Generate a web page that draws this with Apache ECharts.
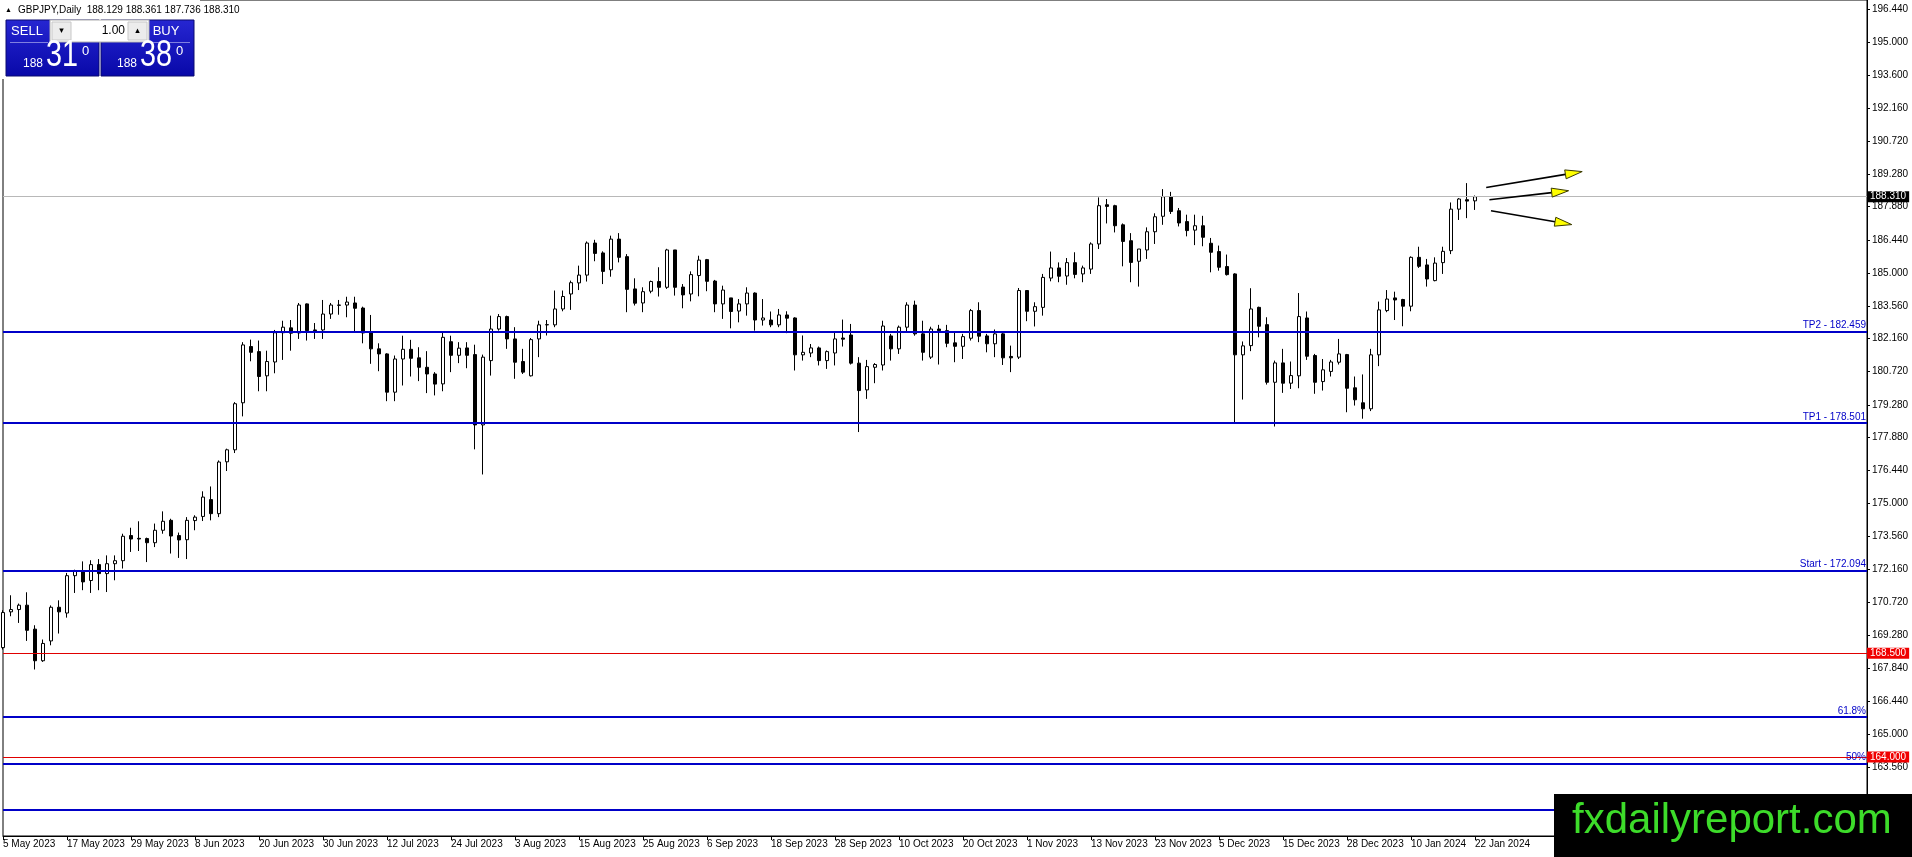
<!DOCTYPE html>
<html><head><meta charset="utf-8">
<script src="https://cdn.jsdelivr.net/npm/echarts/dist/echarts.min.js"></script>
<style>html,body{margin:0;padding:0;background:#fff;}#c{width:1912px;height:857px;}</style>
</head><body><div id="c"></div>
<script>
// ---- data ----
const symbolTitle = 'GBPJPY,Daily  188.129 188.361 187.736 188.310';
const dateLabels = ['5 May 2023','17 May 2023','29 May 2023','8 Jun 2023','20 Jun 2023','30 Jun 2023','12 Jul 2023','24 Jul 2023','3 Aug 2023','15 Aug 2023','25 Aug 2023','6 Sep 2023','18 Sep 2023','28 Sep 2023','10 Oct 2023','20 Oct 2023','1 Nov 2023','13 Nov 2023','23 Nov 2023','5 Dec 2023','15 Dec 2023','28 Dec 2023','10 Jan 2024','22 Jan 2024'];
const yTickLabels = [196.44,195.0,193.6,192.16,190.72,189.28,187.88,186.44,185.0,183.56,182.16,180.72,179.28,177.88,176.44,175.0,173.56,172.16,170.72,169.28,167.84,166.44,165.0,163.56];

const opens = [168.75,170.30,170.40,170.59,169.55,168.18,169.04,170.50,170.25,171.87,172.09,171.66,172.35,171.96,172.39,172.52,173.61,173.49,173.48,173.30,
173.84,174.27,173.61,173.43,174.26,174.44,175.17,174.56,176.81,177.33,179.37,181.81,181.59,180.54,181.14,182.41,182.62,182.40,183.66,182.53,
182.53,183.22,183.61,183.61,183.70,183.48,182.43,181.71,181.49,179.83,181.27,181.69,181.32,180.91,180.62,180.19,182.02,181.43,181.75,181.46,
178.41,181.20,182.57,183.11,182.14,181.16,180.54,182.14,182.76,182.75,183.44,184.09,184.57,184.91,186.30,185.87,185.14,186.47,185.71,184.31,
183.70,184.21,184.63,184.38,186.00,184.39,184.09,184.89,185.58,184.65,183.66,183.92,183.35,183.66,184.13,182.96,182.96,182.75,183.18,183.05,
181.45,181.53,181.75,181.20,181.53,182.18,182.31,181.09,179.93,180.91,181.01,182.27,181.71,182.65,183.61,182.36,181.35,182.57,182.50,181.97,
181.82,182.17,183.37,182.27,181.93,182.36,181.38,181.35,184.24,183.34,183.51,184.78,185.22,184.87,185.45,184.96,185.17,186.26,187.96,187.92,
187.09,186.40,185.51,186.00,186.79,187.46,188.31,187.70,187.23,186.86,187.05,186.29,185.93,185.28,184.96,181.45,181.85,183.51,182.76,180.26,
181.10,180.22,180.54,183.05,181.42,180.29,180.73,181.13,181.46,180.02,179.37,179.11,181.45,183.37,183.92,183.85,183.56,185.68,185.35,184.67,
185.45,185.97,187.77,188.18,188.129];
const highs = [170.37,171.02,170.66,171.15,169.72,169.10,170.58,170.80,171.99,172.13,172.49,172.54,172.59,172.75,172.75,173.69,173.95,174.23,173.52,174.13,
174.66,174.34,173.74,174.41,174.49,175.53,175.74,176.87,177.38,179.40,182.00,182.11,182.07,181.63,182.53,182.93,182.96,183.70,183.68,182.83,
183.83,183.70,183.83,183.97,183.97,183.54,183.18,181.95,181.52,181.42,182.28,182.10,181.78,181.61,180.70,182.43,182.28,182.00,182.00,181.89,
181.46,183.15,183.22,183.15,182.65,181.71,182.18,182.93,182.96,184.24,184.24,184.67,185.32,186.37,186.44,185.94,186.62,186.73,185.82,184.77,
184.38,184.67,185.25,186.05,186.00,184.52,185.07,185.75,185.61,184.70,184.45,183.92,183.87,184.38,184.16,183.87,183.33,183.44,183.34,183.08,
182.29,181.92,181.81,181.64,182.43,182.98,182.79,181.35,181.23,181.09,182.93,182.36,182.72,183.73,183.80,182.93,182.67,182.75,182.75,182.43,
182.36,183.44,183.73,182.36,182.55,182.43,181.85,184.35,184.24,183.73,184.96,185.93,185.46,185.65,185.90,185.32,186.33,188.28,188.21,187.96,
187.15,186.73,186.04,186.98,187.59,188.64,188.52,187.82,187.53,187.53,187.48,186.52,186.19,185.80,184.99,182.03,184.34,183.54,183.08,181.20,
181.71,181.16,184.13,183.33,181.49,181.27,181.23,182.14,181.49,180.51,180.60,181.71,183.76,184.26,184.19,183.88,185.72,186.14,185.61,185.68,
186.14,188.06,188.25,188.90,188.361];
const lows = [168.67,170.11,169.82,169.04,167.80,168.13,168.85,169.36,170.05,171.12,171.24,171.12,171.24,171.16,171.67,172.18,172.90,172.94,172.46,173.11,
173.69,172.83,172.64,172.59,173.84,174.24,174.27,174.41,176.41,177.19,178.78,181.17,179.87,179.87,180.65,181.23,181.63,182.14,182.07,182.14,
182.14,183.01,183.19,183.08,182.43,181.95,181.06,180.74,179.44,179.44,180.12,180.51,180.31,179.79,179.69,179.87,180.70,181.09,180.87,177.35,
176.26,180.55,182.50,181.71,180.41,180.62,180.51,181.35,182.29,182.65,183.34,183.40,184.26,184.63,185.51,184.52,184.84,185.46,183.30,183.59,
183.30,184.12,183.98,184.31,184.02,183.47,183.77,183.99,184.21,183.30,183.01,182.60,182.86,183.15,182.50,182.72,182.65,182.65,182.39,180.77,
181.20,181.35,180.99,180.84,180.99,181.81,181.03,178.10,179.54,180.22,180.77,181.20,181.49,182.43,182.28,181.20,181.27,181.03,181.78,181.13,
181.27,182.07,182.00,181.56,181.35,181.01,180.70,181.27,182.91,182.68,183.15,184.64,184.60,184.49,184.77,184.60,184.96,186.04,187.15,186.76,
185.29,184.60,184.41,185.61,186.26,187.09,187.56,187.02,186.59,186.21,186.16,185.03,185.10,184.89,178.53,179.51,181.61,182.21,180.16,178.34,
179.80,179.97,180.00,181.23,179.76,179.90,180.51,181.03,178.96,179.25,178.68,179.01,180.96,183.30,182.96,182.69,183.34,185.22,184.41,184.64,
184.96,185.82,187.30,187.38,187.736];
const closes = [170.27,170.40,170.59,169.50,168.18,168.93,170.50,170.30,171.87,172.09,171.60,172.35,171.96,172.39,172.52,173.58,173.46,173.46,173.30,173.84,
174.23,173.59,173.42,174.27,174.41,175.28,174.56,176.80,177.33,179.33,181.88,181.56,180.51,181.16,182.41,182.65,182.39,183.61,182.50,182.50,
183.22,183.61,183.60,183.74,183.47,182.40,181.71,181.49,179.83,181.27,181.69,181.30,180.91,180.62,180.18,182.21,181.43,181.74,181.43,178.41,
181.35,182.57,183.11,182.14,181.13,180.70,182.11,182.75,182.75,183.44,183.98,184.58,184.91,186.30,185.85,185.07,186.47,185.68,184.29,183.69,
184.19,184.63,184.38,186.00,184.38,184.05,184.93,185.56,184.64,183.66,184.26,183.33,183.66,184.13,182.96,183.05,182.75,183.18,183.04,181.45,
181.56,181.75,181.20,181.59,182.14,182.13,181.09,179.90,180.94,181.03,182.70,181.71,182.65,183.61,182.36,181.56,182.57,182.50,181.95,181.82,
182.24,183.37,182.26,181.93,182.36,181.32,181.32,184.24,183.34,183.54,184.81,185.22,184.86,185.45,184.94,185.22,186.26,187.92,187.89,187.05,
186.37,185.46,186.04,186.79,187.44,188.31,187.67,187.17,186.84,187.05,186.55,185.90,185.25,184.93,181.45,181.84,183.44,182.69,180.26,181.10,
180.22,180.55,183.11,181.39,180.26,180.80,181.14,181.49,180.00,179.50,179.11,181.45,183.40,183.87,183.83,183.56,185.68,185.29,184.74,185.43,
185.94,187.77,188.21,188.12,188.310];

const levelNames  = ['TP2 - 182.459','TP1 - 178.501','Start - 172.094','61.8%','50%',''];
const levelPrices = [182.459,178.501,172.094,165.73,163.73,161.72];
const redPrices = [168.500,164.000];
const lastPrice = 188.310;
// arrows: [startBarIndex, startPrice, tipBarIndex, tipPrice]
const arrows = [[185.4,188.71,197.4,189.40],[185.8,188.18,195.7,188.57],[186.0,187.70,196.1,187.10]];
const totalSlots = 234;

// ---- build ----
const categories = [];
for (let i = 0; i < totalSlots; i++) categories.push(String(i));
const candleData = opens.map((o,i)=>[o, closes[i], lows[i], highs[i]]);
const lastBar = opens.length - 1;

const FONT = '"Liberation Sans", Arial, sans-serif';
const BLUE = '#0000c8';

const mlData = [];
levelPrices.forEach((p,i)=>{
  mlData.push({yAxis:p, lineStyle:{color:BLUE,width:2,type:'solid'},
    label:{show:!!levelNames[i], formatter:levelNames[i], position:'insideEndTop', color:BLUE, fontSize:10, fontFamily:FONT, distance:[1,1]}});
});
redPrices.forEach(p=>{
  mlData.push({yAxis:p, lineStyle:{color:'#e00000',width:1,type:'solid'},
    label:{show:true, formatter:p.toFixed(3), position:'end', color:'#fff', backgroundColor:'#f00000', padding:[1,3,0,3], fontSize:10, fontFamily:FONT, distance:0}});
});
mlData.push({yAxis:lastPrice, lineStyle:{color:'#b8b8b8',width:1,type:'solid'},
  label:{show:true, formatter:lastPrice.toFixed(3), position:'end', color:'#fff', backgroundColor:'#000', padding:[1,3,0,3], fontSize:10, fontFamily:FONT, distance:0}});

const isLabelIdx = (idx)=> idx % 8 === 0 && idx <= lastBar;

const chart = echarts.init(document.getElementById('c'), null, {renderer:'canvas'});
const g = [];
// cover for panel area
g.push({type:'rect', shape:{x:0,y:0,width:200,height:79}, style:{fill:'#fff'}, z:100});
g.push({type:'text', x:5, y:10, style:{text:'▲', fontSize:7, fill:'#000', fontFamily:FONT, verticalAlign:'middle'}, z:101});
g.push({type:'text', x:18, y:10, style:{text:symbolTitle, fontSize:10, fill:'#000', fontFamily:FONT, verticalAlign:'middle'}, z:101});
const blueGrad = {type:'linear',x:0,y:0,x2:0,y2:1,colorStops:[{offset:0,color:'#2626d2'},{offset:1,color:'#0808a8'}]};
g.push({type:'rect', shape:{x:6,y:20,width:93,height:56}, style:{fill:blueGrad, stroke:'#0a0a70', lineWidth:1}, z:101});
g.push({type:'rect', shape:{x:101,y:20,width:93,height:56}, style:{fill:blueGrad, stroke:'#0a0a70', lineWidth:1}, z:101});
g.push({type:'rect', shape:{x:50,y:20,width:99,height:22}, style:{fill:'#fff', stroke:'#b0b0b0', lineWidth:1}, z:102});
g.push({type:'rect', shape:{x:52,y:22,width:19,height:18}, style:{fill:'#ececec', stroke:'#c8c8c8', lineWidth:1}, z:103});
g.push({type:'rect', shape:{x:128,y:22,width:19,height:18}, style:{fill:'#ececec', stroke:'#c8c8c8', lineWidth:1}, z:103});
g.push({type:'text', x:61.5, y:31, style:{text:'▾', fontSize:9, fill:'#000', align:'center', verticalAlign:'middle', fontFamily:'DejaVu Sans'}, z:104});
g.push({type:'text', x:137.5, y:31, style:{text:'▴', fontSize:9, fill:'#000', align:'center', verticalAlign:'middle', fontFamily:'DejaVu Sans'}, z:104});
g.push({type:'text', x:125, y:31, style:{text:'1.00', fontSize:12, fill:'#000', align:'right', verticalAlign:'middle', fontFamily:FONT}, z:104});
g.push({type:'text', x:27, y:31, style:{text:'SELL', fontSize:13, fill:'#fff', align:'center', verticalAlign:'middle', fontFamily:FONT}, z:104});
g.push({type:'text', x:166, y:31, style:{text:'BUY', fontSize:13, fill:'#fff', align:'center', verticalAlign:'middle', fontFamily:FONT}, z:104});
g.push({type:'line', shape:{x1:10,y1:42.5,x2:48,y2:42.5}, style:{stroke:'#8080e0', lineWidth:1}, z:104});
g.push({type:'line', shape:{x1:152,y1:42.5,x2:190,y2:42.5}, style:{stroke:'#8080e0', lineWidth:1}, z:104});
function quote(x0, small, big, sup){
  g.push({type:'text', x:x0, y:70, style:{text:small, fontSize:12, fill:'#fff', fontFamily:FONT, verticalAlign:'bottom'}, z:104});
  g.push({type:'text', x:x0+23, y:74, scaleX:0.8, style:{text:big, fontSize:36, fill:'#fff', fontFamily:FONT, verticalAlign:'bottom'}, z:104});
  g.push({type:'text', x:x0+59, y:58, style:{text:sup, fontSize:13, fill:'#fff', fontFamily:FONT, verticalAlign:'bottom'}, z:104});
}
quote(23,'188','31','0');
quote(117,'188','38','0');
// watermark box
g.push({type:'rect', shape:{x:1554,y:794,width:358,height:63}, style:{fill:'#000'}, z:100});
g.push({type:'text', x:1572, y:821, style:{text:'fxdailyreport.com', fontSize:42, fill:'#3ddc2a', fontFamily:FONT, verticalAlign:'middle'}, z:101});

chart.setOption({
  animation:false,
  backgroundColor:'#fff',
  grid:{left:3, right:45, top:-1, bottom:21, show:true, borderColor:'#000', borderWidth:1, backgroundColor:'transparent'},
  xAxis:{type:'category', data:categories, boundaryGap:false,
    axisLine:{show:true, lineStyle:{color:'#000',width:1}},
    axisTick:{show:true, interval:(idx)=>isLabelIdx(idx), length:4, lineStyle:{color:'#000'}},
    axisLabel:{show:true, interval:(idx)=>isLabelIdx(idx), formatter:(v,idx)=>dateLabels[idx/8]||'', align:'left', fontSize:10, fontFamily:FONT, color:'#000', margin:3},
    splitLine:{show:false}},
  yAxis:{type:'value', position:'right', min:160.577, max:196.843,
    axisLine:{show:true, onZero:false, lineStyle:{color:'#000',width:1}},
    axisTick:{show:true, length:3, lineStyle:{color:'#000'}, customValues:yTickLabels},
    axisLabel:{show:true, customValues:yTickLabels, formatter:(v)=>Number(v).toFixed(3), fontSize:10, fontFamily:FONT, color:'#000', margin:5},
    splitLine:{show:false}},
  graphic:g,
  series:[
    {type:'candlestick', data:candleData, barWidth:4, clip:true, silent:true,
      itemStyle:{color:'#ffffff', color0:'#000000', borderColor:'#000000', borderColor0:'#000000', borderWidth:1},
      emphasis:{disabled:true},
      markLine:{symbol:['none','none'], silent:true, animation:false, data:mlData}, z:3},
    {type:'custom', silent:true, clip:false, z:6,
      data:arrows.map((a,i)=>[i,a[1]]),
      renderItem:(params, api)=>{
        const a = arrows[params.dataIndex];
        const pt = (ix,p)=>{const i0=Math.floor(ix); const c0=api.coord([i0,p]); const c1=api.coord([i0+1,p]); return [c0[0]+(c1[0]-c0[0])*(ix-i0), c0[1]];};
        const s=pt(a[0],a[1]), t=pt(a[2],a[3]);
        const dx=t[0]-s[0], dy=t[1]-s[1], L=Math.hypot(dx,dy), ux=dx/L, uy=dy/L;
        const hl=17, hw=4.5; const b=[t[0]-ux*hl, t[1]-uy*hl];
        return {type:'group', children:[
          {type:'line', shape:{x1:s[0],y1:s[1],x2:b[0],y2:b[1]}, style:{stroke:'#000', lineWidth:1.6}},
          {type:'polygon', shape:{points:[t,[b[0]-uy*hw,b[1]+ux*hw],[b[0]+uy*hw,b[1]-ux*hw]]}, style:{fill:'#ffff00', stroke:'#3a3a00', lineWidth:1}}
        ]};
      }}
  ]
});
</script></body></html>
